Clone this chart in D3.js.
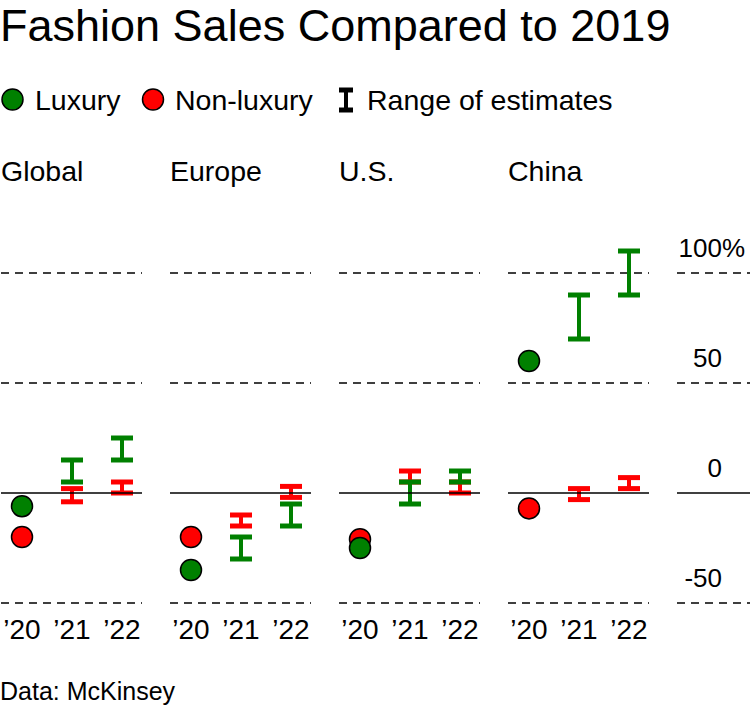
<!DOCTYPE html>
<html>
<head>
<meta charset="utf-8">
<script src="https://cdn.jsdelivr.net/npm/d3@7"></script>
<style>
  html, body { margin: 0; padding: 0; background: #fff; }
  svg text { font-family: "Liberation Sans", Arial, sans-serif; fill: #000; }
</style>
</head>
<body>
<svg id="chart" width="750" height="708"></svg>
<script>
// ---- data ----
const regions = ["Global", "Europe", "U.S.", "China"];
const years = ["’20", "’21", "’22"];
// 2020 actual points (% vs 2019)
const luxury2020 = [-6, -35, -25, 60];
const nonLuxury2020 = [-20, -20, -21, -7];
// ranges of estimates for '21 and '22: [low, high]
const luxuryRanges = [
  [[5, 15], [15, 25]],
  [[-30, -20], [-15, -5]],
  [[-5, 5], [5, 10]],
  [[70, 90], [90, 110]]
];
const nonLuxuryRanges = [
  [[-4, 2], [0, 5]],
  [[-15, -10], [-2, 3]],
  [[5, 10], [0, 5]],
  [[-3, 2], [2, 7]]
];
const yTicks = [100, 50, 0, -50];
const legendItems = ["Luxury", "Non-luxury", "Range of estimates"];

// ---- layout ----
const GREEN = "#008000", RED = "#ff0000";
const svg = d3.select("#chart");
const y = d3.scaleLinear().domain([-50, 100]).range([603, 273]);
const panelStep = 169, panelW = 141;
const px = d3.scalePoint().domain(years).range([21, 121]);

// title
svg.append("text").attr("x", 0).attr("y", 41)
  .style("font-size", "45px").text("Fashion Sales Compared to 2019");

// legend
const lg = svg.append("g");
lg.append("circle").attr("cx", 12.5).attr("cy", 99.5).attr("r", 10.5)
  .attr("fill", GREEN).attr("stroke", "#000").attr("stroke-width", 1.5);
lg.append("text").attr("x", 35).attr("y", 110).style("font-size", "28.5px").text(legendItems[0]);
lg.append("circle").attr("cx", 153).attr("cy", 99.5).attr("r", 10.5)
  .attr("fill", RED).attr("stroke", "#000").attr("stroke-width", 1.5);
lg.append("text").attr("x", 175).attr("y", 110).style("font-size", "28.5px").text(legendItems[1]);
const icx = 346;
lg.append("line").attr("x1", icx).attr("x2", icx).attr("y1", 90).attr("y2", 110)
  .attr("stroke", "#000").attr("stroke-width", 4);
[90, 110].forEach(v => lg.append("line").attr("x1", icx - 7).attr("x2", icx + 7)
  .attr("y1", v).attr("y2", v).attr("stroke", "#000").attr("stroke-width", 5));
lg.append("text").attr("x", 367).attr("y", 110).style("font-size", "28.5px").text(legendItems[2]);

// draw an error bar
function errorBar(g, cx, lo, hi, color) {
  const eg = g.append("g");
  eg.append("line").attr("x1", cx).attr("x2", cx).attr("y1", y(hi)).attr("y2", y(lo))
    .attr("stroke", color).attr("stroke-width", 4);
  [lo, hi].forEach(v => eg.append("line").attr("x1", cx - 11).attr("x2", cx + 11)
    .attr("y1", y(v)).attr("y2", y(v)).attr("stroke", color).attr("stroke-width", 5));
}

regions.forEach((r, i) => {
  const x0 = 1 + i * panelStep;
  const g = svg.append("g").attr("transform", `translate(${x0},0)`);
  g.append("text").attr("x", 0).attr("y", 181).style("font-size", "28.5px").text(r);
  // dashed gridlines
  yTicks.filter(t => t !== 0).forEach(t => {
    g.append("line").attr("x1", 0).attr("x2", panelW).attr("y1", y(t)).attr("y2", y(t))
      .attr("stroke", "#000").attr("stroke-width", 1.5).attr("stroke-dasharray", "8,6");
  });
  // x labels
  years.forEach(yr => g.append("text").attr("x", px(yr)).attr("y", 639)
    .attr("text-anchor", "middle").style("font-size", "28px").text(yr));
  // non-luxury first, luxury on top
  errorBar(g, px(years[1]), nonLuxuryRanges[i][0][0], nonLuxuryRanges[i][0][1], RED);
  errorBar(g, px(years[2]), nonLuxuryRanges[i][1][0], nonLuxuryRanges[i][1][1], RED);
  errorBar(g, px(years[1]), luxuryRanges[i][0][0], luxuryRanges[i][0][1], GREEN);
  errorBar(g, px(years[2]), luxuryRanges[i][1][0], luxuryRanges[i][1][1], GREEN);
  g.append("circle").attr("cx", px(years[0])).attr("cy", y(nonLuxury2020[i])).attr("r", 10.5)
    .attr("fill", RED).attr("stroke", "#000").attr("stroke-width", 1.5);
  g.append("circle").attr("cx", px(years[0])).attr("cy", y(luxury2020[i])).attr("r", 10.5)
    .attr("fill", GREEN).attr("stroke", "#000").attr("stroke-width", 1.5);
  // zero line
  g.append("line").attr("x1", 0).attr("x2", panelW).attr("y1", y(0)).attr("y2", y(0))
    .attr("stroke", "#000").attr("stroke-width", 1.5);
});

// right axis
const ax = svg.append("g");
yTicks.forEach((t, k) => {
  ax.append("line").attr("x1", 677).attr("x2", 750).attr("y1", y(t)).attr("y2", y(t))
    .attr("stroke", "#000").attr("stroke-width", 1.5)
    .attr("stroke-dasharray", t === 0 ? null : "8,6");
  ax.append("text").attr("x", 722).attr("y", y(t) - 16).attr("text-anchor", "end")
    .style("font-size", "26px").text(String(t));
  if (k === 0) ax.append("text").attr("x", 722).attr("y", y(t) - 16)
    .style("font-size", "26px").text("%");
});

// source
svg.append("text").attr("x", 0).attr("y", 700).style("font-size", "25px").text("Data: McKinsey");
</script>
</body>
</html>
